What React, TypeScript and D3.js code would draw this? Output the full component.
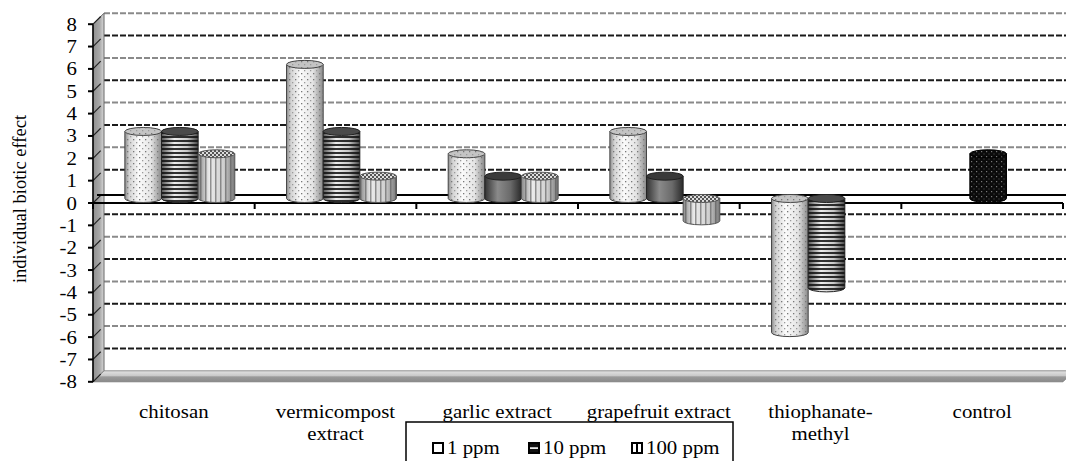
import React from 'react';
import * as d3 from 'd3';

const categories = ['chitosan', 'vermicompost extract', 'garlic extract', 'grapefruit extract', 'thiophanate-methyl', 'control'];
const categoryLines = [['chitosan'], ['vermicompost', 'extract'], ['garlic extract'], ['grapefruit extract'], ['thiophanate-', 'methyl'], ['control']];
const seriesNames = ['1 ppm', '10 ppm', '100 ppm'];
const ppm1: (number | null)[] = [3, 6, 2, 3, -6, null];
const ppm10: (number | null)[] = [3, 3, 1, 1, -4, 2];
const ppm100: (number | null)[] = [2, 1, 1, -1, null, null];
const yTicks = d3.range(-8, 9);
const yTitle = 'individual biotic effect';

// per-point style overrides (not data)
const plainDarkPoints = new Set(['garlic extract|10 ppm', 'grapefruit extract|10 ppm']);
const blackPoints = new Set(['control|10 ppm']);

const W = 1066, H = 461;
const X0 = 93, X1 = 1063;
const DX = 11, DY = -11;
const FONT = 'Liberation Serif, DejaVu Serif, serif';
const FS = 19.5;
const SX = 1.07;
const tStyle = { fontFamily: FONT, fontSize: FS };

export default function App() {
  const y = d3.scaleLinear().domain([-8, 8]).range([381.8, 24.2]);
  const x0 = d3.scaleBand<string>().domain(categories).range([X0, X1]).paddingInner(0.32).paddingOuter(0.16);
  const x1 = d3.scaleBand<string>().domain(seriesNames).range([0, x0.bandwidth()]);
  const step = x0.step();
  const seriesVals = [ppm1, ppm10, ppm100];
  const OFF = 4.5, RY = 4, SHIFT = 6;

  const bars: JSX.Element[] = [];
  categories.forEach((c, ci) => {
    seriesNames.forEach((s, si) => {
      const v = seriesVals[si][ci];
      if (v === null || v === undefined || v === 0) return;
      const key = `${c}|${s}`;
      const w = x1.bandwidth();
      const xl = (x0(c) as number) + (x1(s) as number) + SHIFT;
      const yv = y(v) - OFF;
      const y0 = y(0) - OFF;
      const yA = Math.min(yv, y0);
      const yB = Math.max(yv, y0);
      const rx = w / 2;
      const body = `M${xl},${yA} L${xl},${yB} A${rx},${RY} 0 0 0 ${xl + w},${yB} L${xl + w},${yA} Z`;
      let baseFill = 'url(#gLight)', overlay: string | null = 'url(#dots)', capFill = '#c4c4c4', capOverlay: string | null = 'url(#dots)', stroke = '#444';
      if (si === 1) { baseFill = 'url(#gMid)'; overlay = 'url(#hstripe)'; capFill = '#4a4a4a'; capOverlay = null; stroke = '#222'; }
      if (si === 2) { baseFill = 'url(#gVert)'; overlay = 'url(#vstripe)'; capFill = 'url(#checker)'; capOverlay = null; stroke = '#555'; }
      if (plainDarkPoints.has(key)) { baseFill = 'url(#gDark)'; overlay = null; capFill = '#3a3a3a'; capOverlay = null; stroke = '#222'; }
      if (blackPoints.has(key)) { baseFill = '#0a0a0a'; overlay = 'url(#blackdots)'; capFill = '#0a0a0a'; capOverlay = 'url(#blackdots)'; stroke = '#000'; }
      bars.push(
        <g key={key}>
          <path d={body} fill={baseFill} />
          {overlay && <path d={body} fill={overlay} />}
          <path d={body} fill="none" stroke={stroke} strokeWidth={1} />
          <ellipse cx={xl + rx} cy={yA} rx={rx} ry={RY} fill={capFill} stroke={stroke} strokeWidth={1} />
          {capOverlay && <ellipse cx={xl + rx} cy={yA} rx={rx} ry={RY} fill={capOverlay} />}
        </g>
      );
    });
  });

  const gridColor = (v: number) => (Math.abs(v) % 2 === 1 ? '#1a1a1a' : '#8a8a8a');

  return (
    <svg width={W} height={H} style={{ position: 'absolute', left: 0, top: 0, background: '#fff' }}>
      <defs>
        <linearGradient id="gLight" x1="0" x2="1" y1="0" y2="0">
          <stop offset="0" stopColor="#8c8c8c" />
          <stop offset="0.12" stopColor="#d2d2d2" />
          <stop offset="0.38" stopColor="#fbfbfb" />
          <stop offset="0.72" stopColor="#e4e4e4" />
          <stop offset="1" stopColor="#888" />
        </linearGradient>
        <linearGradient id="gMid" x1="0" x2="1" y1="0" y2="0">
          <stop offset="0" stopColor="#555" />
          <stop offset="0.35" stopColor="#eee" />
          <stop offset="0.7" stopColor="#c8c8c8" />
          <stop offset="1" stopColor="#444" />
        </linearGradient>
        <linearGradient id="gDark" x1="0" x2="1" y1="0" y2="0">
          <stop offset="0" stopColor="#333" />
          <stop offset="0.35" stopColor="#8a8a8a" />
          <stop offset="0.7" stopColor="#6a6a6a" />
          <stop offset="1" stopColor="#2a2a2a" />
        </linearGradient>
        <linearGradient id="gVert" x1="0" x2="1" y1="0" y2="0">
          <stop offset="0" stopColor="#8a8a8a" />
          <stop offset="0.3" stopColor="#ebebeb" />
          <stop offset="0.7" stopColor="#cfcfcf" />
          <stop offset="1" stopColor="#777" />
        </linearGradient>
        <linearGradient id="gWall" x1="0" x2="1" y1="0" y2="0">
          <stop offset="0" stopColor="#8f8f8f" />
          <stop offset="0.6" stopColor="#a8a8a8" />
          <stop offset="1" stopColor="#d8d8d8" />
        </linearGradient>
        <linearGradient id="gFloor" x1="0" x2="0" y1="0" y2="1">
          <stop offset="0" stopColor="#e2e2e2" />
          <stop offset="0.45" stopColor="#c8c8c8" />
          <stop offset="0.55" stopColor="#9a9a9a" />
          <stop offset="1" stopColor="#8a8a8a" />
        </linearGradient>
        <pattern id="dots" width="6" height="6" patternUnits="userSpaceOnUse">
          <rect x="1" y="1" width="1.3" height="1.3" fill="#777" />
          <rect x="4" y="4" width="1.3" height="1.3" fill="#9a9a9a" />
        </pattern>
        <pattern id="hstripe" width="4" height="4" patternUnits="userSpaceOnUse">
          <rect width="4" height="2" fill="#111" opacity="0.85" />
        </pattern>
        <pattern id="vstripe" width="5" height="5" patternUnits="userSpaceOnUse">
          <rect width="1.5" height="5" fill="#555" opacity="0.6" />
        </pattern>
        <pattern id="checker" width="4" height="4" patternUnits="userSpaceOnUse">
          <rect width="4" height="4" fill="#ddd" />
          <rect width="2" height="2" fill="#555" />
          <rect x="2" y="2" width="2" height="2" fill="#555" />
        </pattern>
        <pattern id="blackdots" width="5" height="5" patternUnits="userSpaceOnUse">
          <rect x="1" y="1" width="1.2" height="1.2" fill="#777" />
          <rect x="3.5" y="3.5" width="1" height="1" fill="#555" />
        </pattern>
      </defs>

      {/* back wall gridlines */}
      {yTicks.filter(v => v !== 0 && v !== -8).map(v => (
        <line key={`g${v}`} x1={X0 + DX} x2={W + 5} y1={y(v) + DY} y2={y(v) + DY}
          stroke={gridColor(v)} strokeWidth={2} strokeDasharray="6,2" />
      ))}
      {/* left wall */}
      <polygon points={`${X0},${y(8)} ${X0 + DX},${y(8) + DY} ${X0 + DX},${y(-8) + DY} ${X0},${y(-8)}`} fill="url(#gWall)" stroke="#666" strokeWidth={1} />
      {/* floor */}
      <polygon points={`${X0},${y(-8)} ${X1},${y(-8)} ${X1 + DX},${y(-8) + DY} ${X0 + DX},${y(-8) + DY}`} fill="url(#gFloor)" stroke="#777" strokeWidth={0.8} />
      {/* wall diagonals */}
      {yTicks.map(v => (
        <line key={`d${v}`} x1={X0} x2={X0 + DX * 0.7} y1={y(v)} y2={y(v) + DY * 0.7} stroke="#222" strokeWidth={1.2} />
      ))}
      {/* zero line on back */}
      <line x1={X0 + 4} x2={W} y1={y(0) - 8} y2={y(0) - 8} stroke="#000" strokeWidth={1.8} />
      {/* front axes */}
      <line x1={X0} x2={X0} y1={y(8)} y2={y(-8)} stroke="#000" strokeWidth={1.5} />
      <line x1={X0} x2={X1} y1={y(0)} y2={y(0)} stroke="#000" strokeWidth={1.8} />
      {yTicks.map(v => (
        <line key={`t${v}`} x1={X0 - 5} x2={X0} y1={y(v)} y2={y(v)} stroke="#000" strokeWidth={2} />
      ))}
      {d3.range(categories.length + 1).map(i => (
        <line key={`ct${i}`} x1={X0 + i * step} x2={X0 + i * step} y1={y(0)} y2={y(0) + 6} stroke="#000" strokeWidth={2} />
      ))}
      {/* y tick labels */}
      {yTicks.map(v => (
        <text key={`l${v}`} transform={`translate(77,${y(v) + 6.5}) scale(${SX},1)`} textAnchor="end" style={tStyle} fill="#000">{v}</text>
      ))}
      {/* y title */}
      <text transform={`translate(26,199) rotate(-90)`} textAnchor="middle" style={{ fontFamily: FONT, fontSize: 18.5 }} fill="#000">{yTitle}</text>

      {bars}

      {/* category labels */}
      {categories.map((c, i) => (
        <g key={`cl${c}`}>
          {categoryLines[i].map((ln, li) => (
            <text key={li} transform={`translate(${X0 + (i + 0.5) * step},${418 + li * 22}) scale(${SX},1)`} textAnchor="middle" style={tStyle} fill="#000">{ln}</text>
          ))}
        </g>
      ))}

      {/* legend */}
      <rect x={406} y={422} width={327} height={60} fill="#fff" stroke="#000" strokeWidth={1.5} />
      {seriesNames.map((s, i) => {
        const ix = [433, 529, 632][i];
        const tx = [447, 543, 646][i];
        return (
          <g key={`lg${s}`}>
            {i === 0 && <rect x={ix} y={443} width={10} height={10} fill="#fff" stroke="#000" strokeWidth={2} />}
            {i === 1 && (<g>
              <rect x={ix} y={443} width={10} height={10} fill="#111" stroke="#000" strokeWidth={2} />
              <rect x={ix + 1} y={447.3} width={8} height={1.6} fill="#fff" />
            </g>)}
            {i === 2 && (<g>
              <rect x={ix} y={443} width={10} height={10} fill="#fff" stroke="#000" strokeWidth={2} />
              <line x1={ix + 5} x2={ix + 5} y1={443} y2={453} stroke="#000" strokeWidth={2} />
            </g>)}
            <text transform={`translate(${tx},454) scale(${SX},1)`} style={tStyle} fill="#000">{s}</text>
          </g>
        );
      })}
    </svg>
  );
}
